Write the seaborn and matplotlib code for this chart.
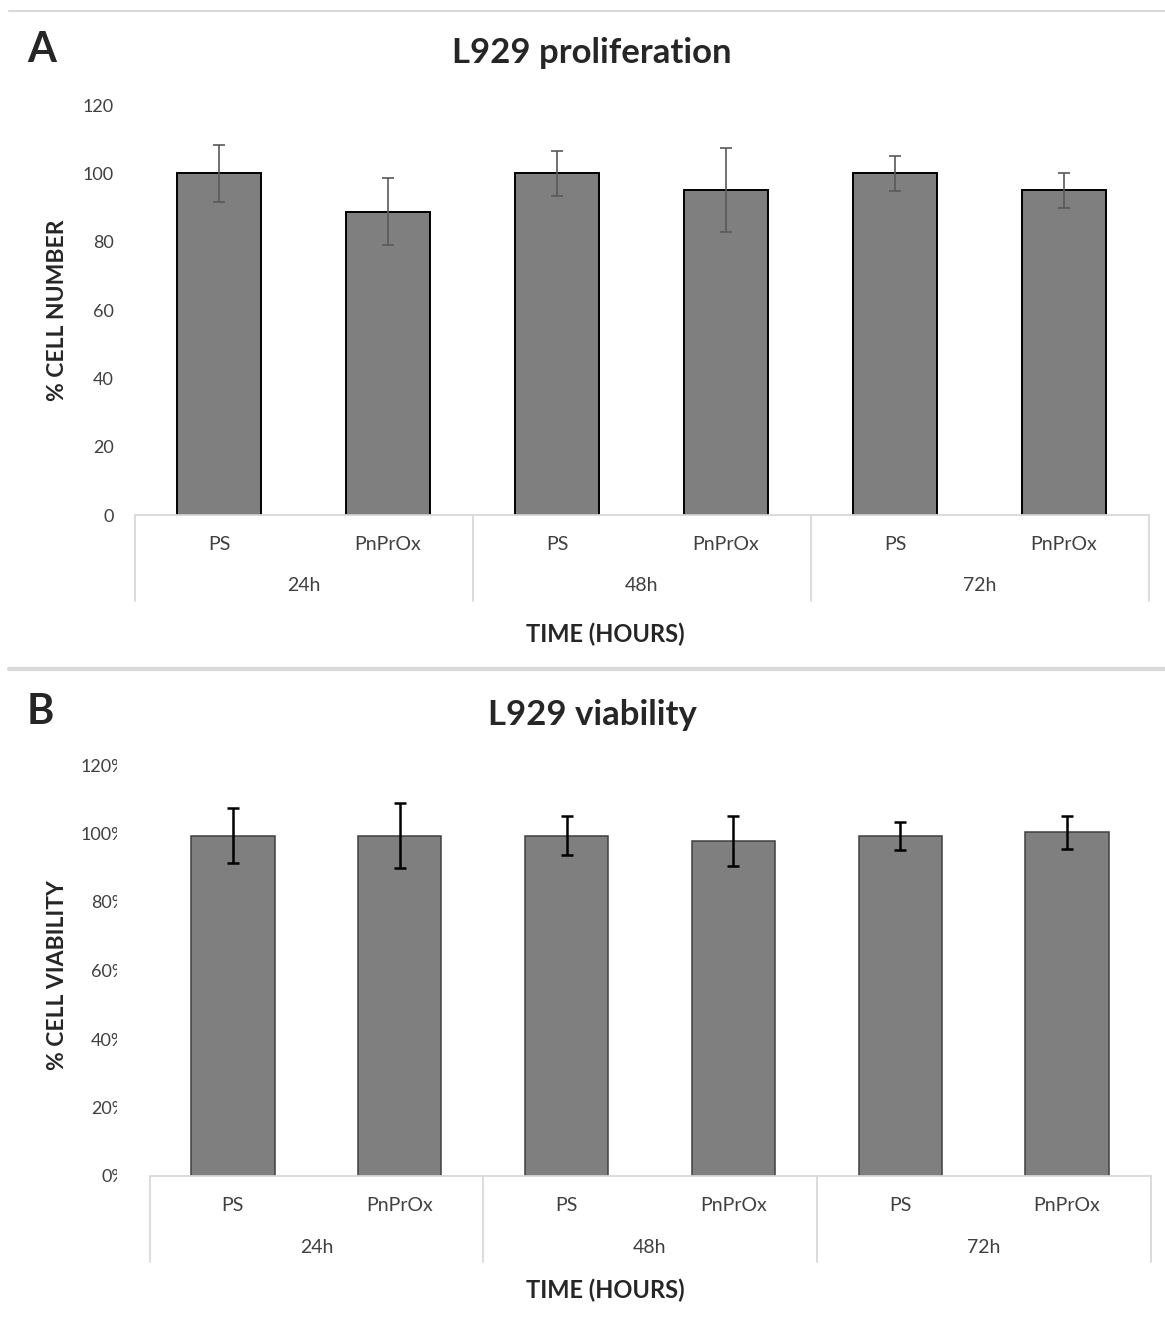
import numpy as np
import pandas as pd
import matplotlib
matplotlib.use("Agg")
import matplotlib.pyplot as plt
import seaborn as sns
from matplotlib.lines import Line2D
from matplotlib.transforms import Bbox, TransformedBbox, blended_transform_factory

# Data
groups = ["24h", "48h", "72h"]
materials = ["PS", "PnPrOx"]
prolif_mean = [100.0, 88.7, 100.0, 95.1, 100.0, 95.1]
prolif_err = [8.3, 9.8, 6.5, 12.3, 5.2, 5.1]
viab_mean = [99.4, 99.4, 99.4, 97.7, 99.3, 100.3]
viab_err = [7.9, 9.6, 5.6, 7.3, 4.1, 4.9]
prolif_ticks = [0, 20, 40, 60, 80, 100, 120]
viab_ticks = [0, 20, 40, 60, 80, 100, 120]

W, H = 1165, 1322
BAR_COLOR = "#7f7f7f"
FRAME = "#d9d9d9"
TICK_COLOR = "#404040"

sns.set_style("white")
plt.rcParams["font.family"] = ["Lato", "DejaVu Sans"]


def make_df(means):
    keys = [f"{g} {m}" for g in groups for m in materials]
    return pd.DataFrame({"key": keys, "value": means})


def draw_panel(ax, left_px, means, errs, ticks, tick_fmt, edge, edge_lw, err_color, err_lw, ylabel):
    df = make_df(means)
    sns.barplot(data=df, x="key", y="value", order=list(df["key"]), color=BAR_COLOR,
                saturation=1, width=0.5, edgecolor=edge, linewidth=edge_lw,
                errorbar=None, ax=ax)
    ax.errorbar(np.arange(len(means)), means, yerr=errs, fmt="none", ecolor=err_color,
                elinewidth=err_lw, capsize=4.5, capthick=err_lw, zorder=5)

    ax.set_xlim(-0.5, len(means) - 0.5)
    ax.set_ylim(0, ticks[-1])
    ax.set_yticks(ticks)
    ax.set_yticklabels([tick_fmt.format(t) for t in ticks])
    ax.tick_params(axis="y", length=0, pad=15, labelsize=13, labelcolor=TICK_COLOR)
    ax.set_xticks(np.arange(len(means)))
    ax.set_xticklabels([m for g in groups for m in materials])
    ax.tick_params(axis="x", length=0, pad=21, labelsize=14, labelcolor=TICK_COLOR)
    for lab in ax.get_xticklabels():
        lab.set_va("center")
    for s in ax.spines.values():
        s.set_visible(False)
    ax.set_xlabel("")
    ax.set_ylabel(ylabel, fontsize=16.5, fontweight="bold", color="#262626", va="center")
    width_px = ax.get_position().width * W
    ax.yaxis.set_label_coords((58 - left_px) / width_px, 0.5)

    # category frame below the bars (Excel multi-level axis)
    tr = blended_transform_factory(ax.transData, ax.transAxes)
    ax.plot([-0.5, len(means) - 0.5], [0, 0], color=FRAME, lw=1.3, transform=tr,
            clip_on=False, zorder=1)
    for i in range(len(groups) + 1):
        xb = -0.5 + i * len(materials)
        ax.plot([xb, xb], [0, -0.21], color=FRAME, lw=1.3, transform=tr, clip_on=False)
    for i, g in enumerate(groups):
        xc = -0.5 + (i + 0.5) * len(materials)
        ax.text(xc, -0.173, g, transform=tr, ha="center", va="center",
                fontsize=14, color=TICK_COLOR)


fig = plt.figure(figsize=(W / 100, H / 100), dpi=100)

axA = fig.add_axes([134.5 / W, (H - 515) / H, 1014 / W, 410 / H])
draw_panel(axA, 134.5, prolif_mean, prolif_err, prolif_ticks, "{}", "black", 1.4,
           "#595959", 1.2, "% CELL NUMBER")

axB = fig.add_axes([149.5 / W, (H - 1176) / H, 1001 / W, 411 / H])
draw_panel(axB, 149.5, viab_mean, viab_err, viab_ticks, "{}%", "#404040", 1.1,
           "black", 1.8, "% CELL VIABILITY")
axB.tick_params(axis="y", pad=17)
axB.yaxis.set_label_coords((58 - 149.5) / 1001, 0.49)
# y tick labels of panel B are cut off in the original
clip = TransformedBbox(Bbox([[0, 0], [117 / W, 1]]), fig.transFigure)
for t in axB.yaxis.get_major_ticks():
    t.label1.set_clip_on(True)
    t.label1.set_clip_box(clip)

# titles, panel letters, x titles
fig.text(592 / W, 1 - 53 / H, "L929 proliferation", ha="center", va="center",
         fontsize=25, fontweight="bold")
fig.text(592 / W, 1 - 715 / H, "L929 viability", ha="center", va="center",
         fontsize=25, fontweight="bold")
fig.text(27 / W, 1 - 50 / H, "A", ha="left", va="center", fontsize=30, fontweight="bold")
fig.text(27 / W, 1 - 712 / H, "B", ha="left", va="center", fontsize=30, fontweight="bold")
fig.text(605 / W, 1 - 634 / H, "TIME (HOURS)", ha="center", va="center",
         fontsize=17, fontweight="bold", color="#262626")
fig.text(605 / W, 1 - 1290 / H, "TIME (HOURS)", ha="center", va="center",
         fontsize=17, fontweight="bold", color="#262626")

# light grey separators
fig.add_artist(Line2D([9 / W, 1], [1 - 11 / H, 1 - 11 / H], color=FRAME, lw=1.5))
fig.add_artist(Line2D([9 / W, 1], [1 - 669.5 / H, 1 - 669.5 / H], color=FRAME, lw=3))

fig.savefig("out.png", dpi=100)
